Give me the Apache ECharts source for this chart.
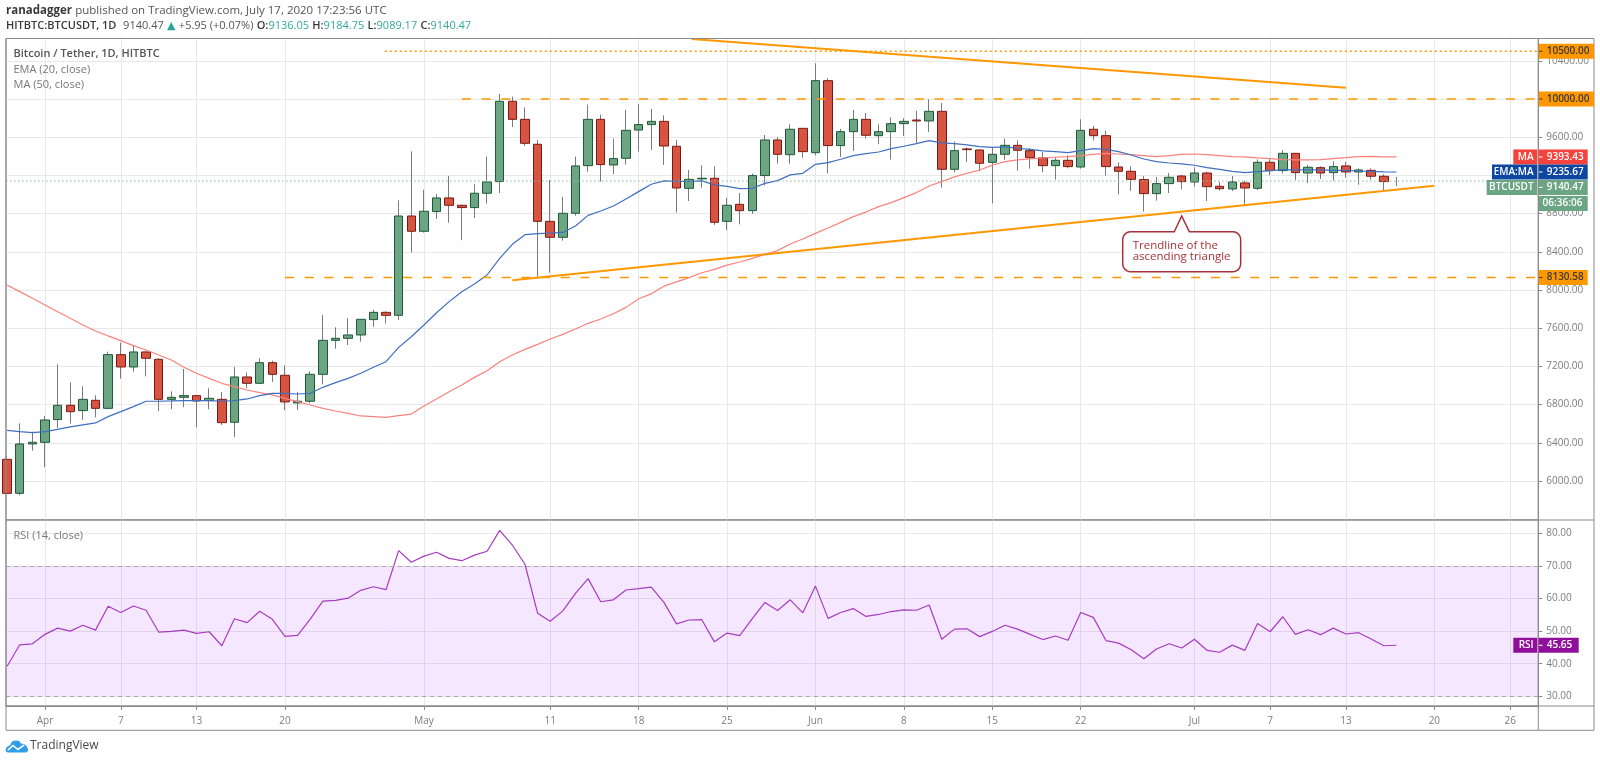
<!DOCTYPE html>
<html><head><meta charset="utf-8"><title>BTCUSDT</title>
<style>html,body{margin:0;padding:0;background:#fff}#c{width:1600px;height:763px}</style>
<script src="https://cdn.jsdelivr.net/npm/echarts@6/dist/echarts.min.js"></script>
</head><body><div id="c"></div>
<script>
// day numbers count from 1 April 2020 = 0; first candle is 29 March (-3)
const firstDay = -3;
const openValues = [
6227,5871,6388,6405,6643,6793,6737,6845,6761,7323,
7194,7351,7274,6855,6876,6894,6842,6855,6615,7089,
7023,7239,7107,6817,6835,7117,7473,7494,7529,7690,
7766,7735,8775,8615,8821,8964,8887,8863,9013,9135,
9976,9787,9526,8719,8552,8803,9302,9787,9309,9379,
9675,9732,9766,9505,9065,9163,9170,8719,8897,8831,
9198,9571,9417,9693,9438,10192,9512,9658,9787,9616,
9658,9742,9780,9770,9871,9264,9477,9466,9337,9421,
9515,9459,9383,9302,9358,9288,9683,9616,9288,9243,
9156,9009,9114,9194,9131,9225,9086,9058,9121,9065,
9337,9250,9431,9225,9281,9229,9299,9236,9253,9191,9136.05];
const closeValues = [
5871,6388,6405,6639,6793,6726,6855,6761,7323,7194,
7351,7285,6855,6876,6894,6838,6866,6611,7089,7023,
7239,7117,6828,6835,7117,7473,7494,7529,7693,7766,
7735,8775,8615,8824,8964,8887,8863,9013,9131,9976,
9787,9536,8719,8552,8803,9299,9787,9313,9376,9672,
9732,9766,9508,9068,9159,9170,8709,8887,8831,9198,
9571,9421,9683,9449,10192,9512,9658,9787,9620,9658,
9742,9766,9770,9871,9264,9459,9470,9327,9421,9515,
9463,9386,9302,9358,9292,9672,9616,9292,9243,9159,
9009,9114,9180,9135,9225,9082,9061,9131,9068,9337,
9250,9431,9229,9285,9225,9292,9236,9257,9191,9135,9140.47];
const highValues = [
6262,6604,6517,6681,7222,7033,6992,6897,7355,7449,
7417,7362,7285,6939,7173,6899,6971,6932,7194,7138,
7285,7260,7211,6932,7149,7738,7609,7704,7695,7794,
7777,8939,9452,9051,9006,9194,8894,9107,9397,10053,
10025,9913,9571,9152,8974,9397,9941,9836,9585,9885,
9948,9896,9829,9571,9257,9306,9295,8967,9016,9219,
9623,9602,9735,9697,10374,10217,9686,9885,9854,9735,
9808,9798,9875,9997,9958,9554,9494,9470,9491,9585,
9567,9484,9445,9390,9410,9787,9718,9669,9337,9295,
9194,9184,9225,9205,9285,9239,9131,9194,9145,9369,
9369,9463,9435,9309,9295,9348,9341,9274,9274,9212,9184.75];
const lowValues = [
5864,5850,6318,6144,6552,6601,6639,6667,6751,7072,
7145,7096,6733,6751,6772,6562,6751,6587,6461,6974,
7016,7037,6740,6744,6814,7012,7386,7424,7459,7613,
7648,7686,8391,8601,8744,8705,8521,8754,8904,9016,
9707,9508,8126,8182,8517,8779,9239,9135,9215,9313,
9449,9466,9309,8810,8932,9072,8681,8629,8688,8796,
9096,9323,9323,9383,9410,9222,9393,9456,9585,9529,
9365,9613,9540,9655,9072,9232,9341,9243,8908,9362,
9250,9271,9232,9156,9274,9271,9567,9198,9001,9037,
8821,8936,9016,9054,9082,8932,9041,9037,8890,9047,
9201,9219,9152,9121,9163,9145,9177,9103,9156,9037,9089.17];
const ema20 = [
6531,6517,6506,6517,6541,6566,6587,6608,6674,6726,
6779,6835,6835,6838,6842,6842,6842,6835,6842,6859,
6894,6918,6918,6911,6918,6981,7030,7075,7128,7191,
7249,7399,7511,7633,7762,7878,7982,8062,8157,8331,
8478,8579,8590,8596,8603,8670,8781,8827,8880,8953,
9030,9107,9142,9138,9138,9142,9100,9086,9061,9065,
9117,9145,9205,9222,9316,9334,9369,9407,9428,9445,
9480,9505,9533,9564,9540,9533,9519,9501,9494,9498,
9484,9473,9456,9449,9438,9459,9480,9473,9449,9414,
9372,9344,9330,9320,9306,9281,9264,9243,9229,9239,
9250,9260,9257,9257,9257,9253,9253,9246,9243,9236,9235.67];
const ma50 = [
8053,7983,7913,7843,7773,7704,7634,7571,7519,7470,
7417,7372,7320,7267,7191,7128,7075,7023,6988,6953,
6925,6901,6866,6831,6796,6761,6733,6709,6681,6674,
6667,6684,6701,6785,6858,6935,7005,7085,7155,7249,
7319,7378,7431,7487,7535,7591,7651,7696,7752,7818,
7909,7960,8040,8085,8129,8181,8216,8261,8293,8331,
8373,8412,8481,8534,8593,8649,8708,8768,8816,8873,
8915,8967,9020,9089,9135,9184,9222,9257,9306,9344,
9362,9372,9383,9390,9397,9407,9421,9431,9424,9417,
9407,9397,9407,9421,9424,9417,9407,9397,9393,9383,
9376,9365,9362,9362,9365,9376,9386,9397,9400,9393,9393.43];
const rsi14 = [
39.2,45.8,46.1,49.0,50.9,50.0,51.8,50.3,57.6,55.7,
57.7,56.4,49.7,49.9,50.3,49.3,49.8,45.5,53.8,52.6,
56.1,53.6,48.4,48.7,53.7,59.2,59.4,60.1,62.5,63.6,
62.7,74.7,71.1,73.0,74.2,72.3,71.6,73.3,74.5,80.9,
76.4,70.5,55.5,53.0,56.2,61.6,66.1,59.0,59.6,62.6,
63.0,63.5,58.8,52.2,53.4,53.5,46.7,49.4,48.6,53.8,
58.8,56.3,59.6,55.6,63.8,53.9,55.7,56.9,54.5,55.1,
56.0,56.5,56.4,58.0,47.5,50.6,50.7,48.3,49.9,51.8,
50.6,49.0,47.4,48.5,47.2,55.7,54.2,47.1,46.3,44.3,
41.5,44.5,46.1,44.8,47.5,44.1,43.5,45.7,44.1,52.3,
49.8,54.4,49.0,50.4,48.9,50.9,49.1,49.5,47.6,45.5,45.65];

const tickDays = [0,6,12,19,30,40,47,54,61,68,75,82,91,97,103,110,116];
const tickLabels = ['Apr','7','13','20','May','11','18','25','Jun','8','15','22','Jul','7','13','20','26'];
const priceTicks = [6000,6400,6800,7200,7600,8000,8400,8800,9200,9600,10000,10400];
const rsiTicks = [30,40,50,60,70,80];

const level10500 = 10500, level10000 = 10000, level8130 = 8130.58, lastPrice = 9140.47;
const rightDay = 118.23, leftDay = -3.088;
const resistanceLine = [[51.2,10629],[103,10118]];
const supportLine = [[37,8102],[110,9092]];

const FONT = '"Open Sans", sans-serif';
const ORANGE = '#ff9800';
const days = openValues.map((_, i) => firstDay + i);
const wicks = days.map((d, i) => [d, openValues[i], closeValues[i], lowValues[i], highValues[i]]);
// the live last candle shows as a bare wick in the reference, so it gets no body
const bodies = days.slice(0, -1).map((d, i) => [d, openValues[i], closeValues[i],
  Math.min(openValues[i], closeValues[i]), Math.max(openValues[i], closeValues[i])]);

function lineSeries(name, data, color, width, type, extra) {
  return Object.assign({name, type:'line', data, symbol:'none', showSymbol:false, silent:true, animation:false,
    lineStyle:{color, width, type}, itemStyle:{color}}, extra || {});
}
const hSeg = (from, v) => [[from, v],[rightDay, v]];

const option = {
  animation:false, backgroundColor:'#fff',
  textStyle:{fontFamily:FONT},
  grid:[
    {left:6, top:38.5, width:1532.3, height:481.5, show:true, borderColor:'#8a8a8a', borderWidth:1, backgroundColor:'#fff'},
    {left:6, top:520, width:1532.3, height:186, show:true, borderColor:'#8a8a8a', borderWidth:1, backgroundColor:'#fff'}
  ],
  xAxis:[0,1].map(i => ({
    type:'value', gridIndex:i, min:leftDay, max:rightDay, position:'bottom',
    axisLine:{show:i===1, onZero:false, lineStyle:{color:'#8a8a8a'}},
    axisTick:{show:i===1, customValues:tickDays, length:4, lineStyle:{color:'#8a8a8a'}},
    minorTick:{show:false},
    axisLabel:{show:i===1, customValues:tickDays, margin:10.5, color:'#7d7d7d', fontSize:10, fontFamily:FONT,
      hideOverlap:false, showMinLabel:true, showMaxLabel:true,
      formatter:v => tickLabels[tickDays.indexOf(v)]},
    splitLine:{show:true, lineStyle:{color:'#e8e8e8', width:1}}
  })),
  yAxis:[
    {type:'value', gridIndex:0, position:'right', min:5591.6, max:10633.5, scale:true,
     axisLine:{show:true, onZero:false, lineStyle:{color:'#8a8a8a'}},
     axisTick:{show:true, customValues:priceTicks, length:4, lineStyle:{color:'#8a8a8a'}},
     axisLabel:{customValues:priceTicks, margin:8, color:'#7d7d7d', fontSize:10, fontFamily:FONT,
       formatter:v => v.toFixed(2)},
     splitLine:{show:true, lineStyle:{color:'#e8e8e8', width:1}}},
    {type:'value', gridIndex:1, position:'right', min:27.02, max:84.08, scale:true,
     axisLine:{show:true, onZero:false, lineStyle:{color:'#8a8a8a'}},
     axisTick:{show:true, customValues:rsiTicks, length:4, lineStyle:{color:'#8a8a8a'}},
     axisLabel:{customValues:rsiTicks, margin:8, color:'#7d7d7d', fontSize:10, fontFamily:FONT,
       formatter:v => v.toFixed(2)},
     splitLine:{show:true, lineStyle:{color:'#e8e8e8', width:1}}}
  ],
  series:[
    lineSeries('MA (50, close)', days.map((d,i)=>[d,ma50[i]]), '#f8827c', 1.2, 'solid'),
    lineSeries('EMA (20, close)', days.map((d,i)=>[d,ema20[i]]), '#3f6fc0', 1.2, 'solid'),
    {name:'wicks', type:'candlestick', data:wicks, barWidth:1, silent:true, animation:false,
     encode:{x:0,y:[1,2,3,4]},
     itemStyle:{color:'#7b7b7b',color0:'#7b7b7b',borderColor:'#7b7b7b',borderColor0:'#7b7b7b',borderWidth:1}},
    {name:'BTCUSDT', type:'candlestick', data:bodies, barWidth:9, silent:true, animation:false,
     encode:{x:0,y:[1,2,3,4]},
     itemStyle:{color:'#6ba583',color0:'#d75442',borderColor:'#1d5a36',borderColor0:'#7b1a12',borderWidth:1}},
    lineSeries('last price', hSeg(leftDay,lastPrice), '#8dbb9f', 1, [1.5,2.5]),
    lineSeries('10500', hSeg(26.9,level10500), ORANGE, 1.5, [2,3]),
    lineSeries('10000', hSeg(33,level10000), ORANGE, 1.5, [9,10.7]),
    lineSeries('8130.58', hSeg(19,level8130), ORANGE, 1.5, [9,10.7]),
    lineSeries('resistance', resistanceLine, ORANGE, 2, 'solid'),
    lineSeries('support', supportLine, ORANGE, 2, 'solid'),
    lineSeries('RSI', days.map((d,i)=>[d,rsi14[i]]), '#a63dc0', 1.2, 'solid', {
      xAxisIndex:1, yAxisIndex:1,
      markArea:{silent:true, itemStyle:{color:'rgba(153,21,255,0.10)'}, data:[[{yAxis:70},{yAxis:30}]]},
      markLine:{silent:true, symbol:'none', label:{show:false},
        lineStyle:{color:'#a9a9a9', width:1, type:[4,4]}, data:[{yAxis:70},{yAxis:30}]}
    })
  ]
};

const chart = echarts.init(document.getElementById('c'), null, {renderer:'canvas'});
chart.setOption(option);

const py = v => chart.convertToPixel({yAxisIndex:0}, v);
const ry = v => chart.convertToPixel({yAxisIndex:1}, v);
const TAGH = 15;
function tag(x, w, cy, fill, text, color, textX, align) {
  return [
    {type:'rect', z:50, silent:true, shape:{x, y:cy-TAGH/2, width:w, height:TAGH}, style:{fill}},
    {type:'text', z:51, silent:true, style:{x:textX, y:cy, text, fill:color, align:align||'left', verticalAlign:'middle',
      font:'600 10px "Open Sans", sans-serif'}}
  ];
}
const tick = (cy, color) => ({type:'rect', z:52, silent:true, shape:{x:1539, y:cy-0.5, width:3.5, height:1}, style:{fill:color}});
function corner(cx, cy, r, a0) {   // quarter-circle outline points for a rounded box corner
  const pts = [];
  for (let k = 0; k <= 6; k++) { const a = a0 + k * Math.PI / 12; pts.push([cx + r*Math.cos(a), cy + r*Math.sin(a)]); }
  return pts;
}
const AX = 1538.7;
const cMA = py(9393.43), cEMA = py(9235.67), cLast = cEMA + 15.4, cTime = cLast + 16;
const g = [];
// frame
g.push({type:'rect', z:40, silent:true, shape:{x:6, y:38.5, width:1588, height:691.8}, style:{fill:'none', stroke:'#8a8a8a', lineWidth:1}});
g.push({type:'line', z:40, silent:true, shape:{x1:1538.3,y1:38.5,x2:1538.3,y2:730.3}, style:{stroke:'#8a8a8a', lineWidth:1}});
[520,706].forEach(y => g.push({type:'line', z:40, silent:true, shape:{x1:6,y1:y,x2:1594,y2:y}, style:{stroke:'#8a8a8a', lineWidth:1}}));
// price tags
g.push(...tag(AX, 55.3, py(10500), ORANGE, '10500.00', '#3a3a3a', 1546.7));
g.push(...tag(AX, 55.3, py(10000), ORANGE, '10000.00', '#3a3a3a', 1546.7));
g.push(...tag(AX, 49, py(8130.58), ORANGE, '8130.58', '#3a3a3a', 1546.7));
g.push(...tag(1513.3, 24, cMA, '#f4433c', 'MA', '#fff', 1533.6, 'right'));
g.push(...tag(AX, 49, cMA, '#f4433c', '9393.43', '#fff', 1546.7));
g.push(...tag(1492, 45.3, cEMA, '#0d47a1', 'EMA:MA', '#fff', 1533.6, 'right'));
g.push(...tag(AX, 49, cEMA, '#0d47a1', '9235.67', '#fff', 1546.7));
g.push(...tag(1486.7, 50.6, cLast, '#6ba583', 'BTCUSDT', '#fff', 1533.6, 'right'));
g.push(...tag(AX, 49, cLast, '#6ba583', '9140.47', '#fff', 1546.7));
g.push(...tag(AX, 49, cTime, '#6ba583', '06:36:06', '#fff', 1542.6));
g.push(...tag(1513.3, 24, ry(45.65), '#8f0f9a', 'RSI', '#fff', 1533.6, 'right'));
g.push(...tag(AX, 40, ry(45.65), '#8f0f9a', '45.65', '#fff', 1546.7));
[cMA,cEMA,cLast,ry(45.65)].forEach(c => g.push(tick(c,'#fff')));
[py(10500),py(10000),py(8130.58)].forEach(c => g.push(tick(c,'#3a3a3a')));
// callout
const L = 1122.7, R = 1240.7, T = 231.7, B = 271.7, RAD = 8;
const calloutPts = [
  [1174.3,T],[1181.7,216],[1189.3,T],
  ...corner(R-RAD,T+RAD,RAD,-Math.PI/2),
  ...corner(R-RAD,B-RAD,RAD,0),
  ...corner(L+RAD,B-RAD,RAD,Math.PI/2),
  ...corner(L+RAD,T+RAD,RAD,Math.PI)
];
g.push({type:'polygon', z:45, silent:true, shape:{points:calloutPts}, style:{fill:'#fff', stroke:'#a8323a', lineWidth:1.5}});
g.push({type:'text', z:46, silent:true, style:{x:1132.7, y:245.5, text:'Trendline of the', fill:'#a8323a', verticalAlign:'middle', font:'11.5px "Open Sans", sans-serif'}});
g.push({type:'text', z:46, silent:true, style:{x:1132.7, y:257, text:'ascending triangle', fill:'#a8323a', verticalAlign:'middle', font:'11.5px "Open Sans", sans-serif'}});
// pane legends
g.push({type:'text', z:46, silent:true, style:{x:13.5, y:54, text:'Bitcoin / Tether, 1D, HITBTC', fill:'#555', verticalAlign:'middle', font:'600 11px "Open Sans", sans-serif'}});
g.push({type:'text', z:46, silent:true, style:{x:13.5, y:69.5, text:'EMA (20, close)', fill:'#777', verticalAlign:'middle', font:'11px "Open Sans", sans-serif'}});
g.push({type:'text', z:46, silent:true, style:{x:13.5, y:84.5, text:'MA (50, close)', fill:'#777', verticalAlign:'middle', font:'11px "Open Sans", sans-serif'}});
g.push({type:'text', z:46, silent:true, style:{x:13.5, y:535.5, text:'RSI (14, close)', fill:'#777', verticalAlign:'middle', font:'11px "Open Sans", sans-serif'}});
// header
g.push({type:'text', z:46, silent:true, style:{x:6, y:11, verticalAlign:'middle',
  text:'{b|ranadagger} {n|published on TradingView.com, July 17, 2020 17:23:56 UTC}',
  rich:{b:{font:'700 11.5px "Open Sans", sans-serif', fill:'#3a3a3a'}, n:{font:'11.5px "Open Sans", sans-serif', fill:'#555'}}}});
g.push({type:'text', z:46, silent:true, style:{x:6, y:26, verticalAlign:'middle',
  text:'{b|HITBTC:BTCUSDT, 1D}  {n|9140.47} {t|▲} {n|+5.95 (+0.07%)} {b|O:}{c|9136.05} {b|H:}{c|9184.75} {b|L:}{c|9089.17} {b|C:}{c|9140.47}',
  rich:{b:{font:'600 11px "Open Sans", sans-serif', fill:'#3a3a3a'}, n:{font:'11px "Open Sans", sans-serif', fill:'#555'},
        c:{font:'11px "Open Sans", sans-serif', fill:'#33a89c'}, t:{font:'11px "DejaVu Sans", sans-serif', fill:'#26a69a'}}}});
// logo
g.push({type:'polygon', z:46, silent:true,
  shape:{points:[[5.5,751],[6,748],[8,746],[10,745.5],[11,743],[13,741],[16,740.5],[19,741],[21,743.5],[24,744],[26.5,746],[28,749],[28,751],[26,752.5],[7.5,752.5]]},
  style:{fill:'#2c9fe8'}});
g.push({type:'polyline', z:47, silent:true, shape:{points:[[8,750],[13,745.5],[18,749.5],[24,745]]}, style:{stroke:'#fff', lineWidth:1.6, fill:'none'}});
g.push({type:'text', z:46, silent:true, style:{x:30, y:746, text:'TradingView', fill:'#4a4a4a', verticalAlign:'middle', font:'12px "Open Sans", sans-serif'}});
chart.setOption({graphic:{elements:g}});
</script></body></html>
